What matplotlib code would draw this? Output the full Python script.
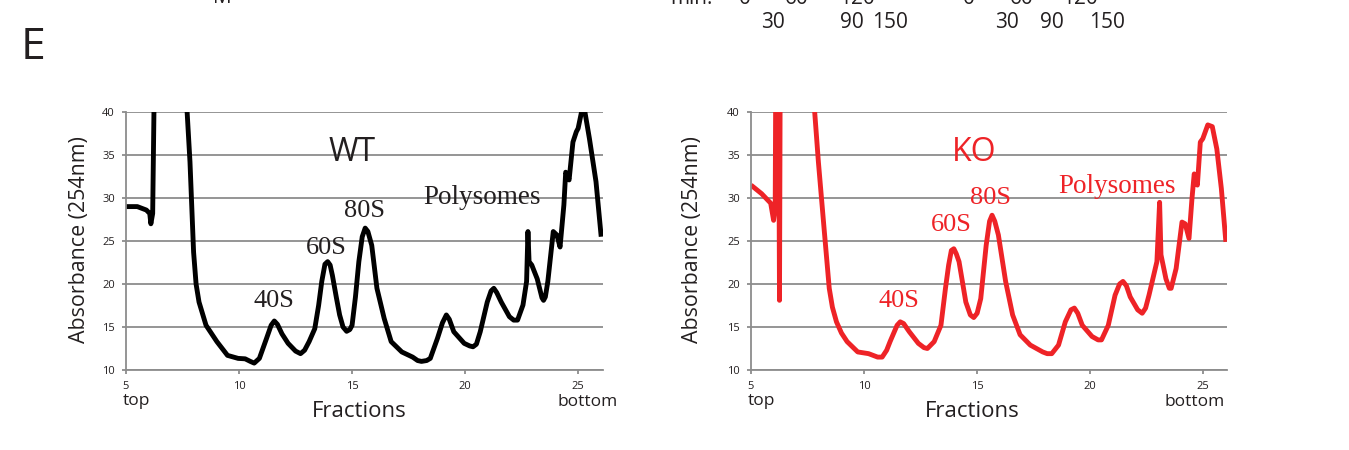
import matplotlib
matplotlib.use("Agg")
import matplotlib.pyplot as plt
import matplotlib.transforms as mtrans

plt.rcParams['font.family'] = ['Open Sans', 'DejaVu Sans']

# fractions / absorbance
wt_x = [5.0, 5.5, 5.9, 6.05, 6.1, 6.18, 6.26, 7.0, 7.66, 7.83,
        7.99, 8.1, 8.23, 8.54, 9.02, 9.49, 9.96, 10.27, 10.5, 10.67,
        10.9, 11.22, 11.42, 11.56, 11.7, 11.9, 12.17, 12.5, 12.72, 12.9,
        13.1, 13.35, 13.52, 13.66, 13.8, 13.92, 14.03, 14.13, 14.3, 14.45,
        14.6, 14.76, 14.9, 15.0, 15.15, 15.3, 15.45, 15.58, 15.7, 15.87,
        16.1, 16.42, 16.73, 17.2, 17.68, 17.9, 18.07, 18.3, 18.46, 18.78,
        19.0, 19.17, 19.3, 19.5, 19.96, 20.2, 20.35, 20.5, 20.67, 20.98,
        21.15, 21.27, 21.4, 21.6, 21.96, 22.15, 22.32, 22.56, 22.72, 22.78,
        22.83, 22.95, 23.19, 23.4, 23.47, 23.55, 23.66, 23.9, 24.06, 24.2,
        24.37, 24.45, 24.6, 24.77, 24.92, 25.0, 25.15, 25.3, 25.5, 25.79,
        26.02]
wt_y = [29.0, 29.0, 28.6, 28.2, 27.0, 28.2, 45, 60, 42, 34.2,
        23.7, 20.0, 17.9, 15.2, 13.3, 11.7, 11.35, 11.3, 11.0, 10.8,
        11.35, 13.7, 15.2, 15.7, 15.3, 14.2, 13.1, 12.2, 11.9, 12.3,
        13.3, 14.8, 17.5, 20.3, 22.3, 22.6, 22.2, 21.0, 18.5, 16.4,
        15.0, 14.5, 14.7, 15.2, 18.5, 22.6, 25.5, 26.5, 26.1, 24.5,
        19.5, 16.0, 13.3, 12.1, 11.5, 11.1, 11.0, 11.1, 11.35, 13.7,
        15.5, 16.4, 15.9, 14.45, 13.1, 12.8, 12.7, 13.0, 14.45, 17.9,
        19.2, 19.5, 19.0, 17.9, 16.2, 15.8, 15.8, 17.55, 20.3, 26.1,
        22.6, 22.2, 20.6, 18.4, 18.1, 18.5, 20.3, 26.1, 25.7, 24.3,
        29.2, 33.0, 32.1, 36.5, 37.7, 38.1, 40.0, 40.0, 36.9, 31.9,
        25.5]

# KO trace
ko_x = [5.0, 5.47, 5.87, 6.0, 6.07, 6.12, 6.2, 6.26, 6.31, 7.0,
        7.76, 7.98, 8.23, 8.46, 8.6, 8.78, 9.0, 9.25, 9.72, 10.2,
        10.6, 10.8, 11.0, 11.15, 11.46, 11.6, 11.75, 12.0, 12.4, 12.65,
        12.8, 13.1, 13.4, 13.6, 13.74, 13.86, 13.97, 14.08, 14.2, 14.5,
        14.7, 14.85, 15.0, 15.16, 15.4, 15.55, 15.66, 15.78, 15.94, 16.26,
        16.57, 16.9, 17.35, 17.9, 18.1, 18.3, 18.6, 18.9, 19.15, 19.3,
        19.45, 19.65, 20.08, 20.35, 20.5, 20.8, 21.1, 21.3, 21.45, 21.6,
        21.77, 22.1, 22.3, 22.45, 22.6, 22.95, 23.07, 23.13, 23.35, 23.5,
        23.58, 23.8, 24.06, 24.2, 24.37, 24.5, 24.6, 24.74, 24.87, 24.98,
        25.2, 25.4, 25.6, 25.8, 26.0]
ko_y = [31.5, 30.5, 29.4, 27.4, 28.8, 60, 60, 18.1, 60, 60,
        42, 34.2, 26.5, 19.5, 17.3, 15.6, 14.3, 13.3, 12.1, 11.9,
        11.5, 11.5, 12.3, 13.3, 15.2, 15.6, 15.4, 14.45, 13.1, 12.6,
        12.5, 13.3, 15.2, 19.5, 22.2, 23.9, 24.1, 23.5, 22.6, 17.9,
        16.4, 16.1, 16.6, 18.3, 24.5, 27.3, 28.0, 27.3, 25.7, 20.3,
        16.4, 14.1, 12.9, 12.1, 11.9, 11.9, 12.9, 15.6, 17.0, 17.2,
        16.6, 15.2, 13.9, 13.5, 13.5, 15.2, 18.7, 20.0, 20.3, 19.8,
        18.5, 17.0, 16.6, 17.2, 18.7, 22.6, 29.5, 23.4, 20.6, 19.5,
        19.5, 21.8, 27.2, 27.0, 25.3, 29.9, 32.8, 31.5, 36.5, 36.9,
        38.5, 38.3, 35.7, 31.1, 24.9]

yticks = [10, 15, 20, 25, 30, 35, 40]
xticks = [5, 10, 15, 20, 25]

RED = '#ee2327'
GRID = '#8c8c8c'
TXT = '#231f20'

W, H = 1349, 450
fig = plt.figure(figsize=(W / 100, H / 100), dpi=100)


def px(x, y):
    return x / W, 1 - y / H


def panel(left, right, xmax, xs, ys, col, name, lab_col, peaks, poly, bottom_x, ylab_x, xlab_x):
    ax = fig.add_axes([left / W, 80 / H, (right - left) / W, 258 / H])
    ax.set_xlim(5, xmax)
    ax.set_ylim(10, 40)
    ax.set_yticks(yticks)
    ax.set_xticks(xticks)
    ax.yaxis.grid(True, color=GRID, lw=1.3)
    ax.set_axisbelow(True)
    for s in ['top', 'right']:
        ax.spines[s].set_visible(False)
    for s in ['left', 'bottom']:
        ax.spines[s].set_color(GRID)
        ax.spines[s].set_linewidth(1.3)
    ax.tick_params(colors=GRID, length=3, width=1.3, labelsize=8, labelcolor=TXT)
    ax.tick_params(axis='x', pad=5)
    ax.tick_params(axis='y', pad=5)
    ax.plot(xs, ys, color=col, lw=3.5, solid_joinstyle='round', solid_capstyle='butt')

    tr = mtrans.blended_transform_factory(ax.transData, ax.transAxes)
    ax.text(5.48, -0.122, 'top', transform=tr, ha='center', va='center', fontsize=12.5, color=TXT)
    ax.text(bottom_x, -0.124, 'bottom', transform=tr, ha='center', va='center', fontsize=12.5, color=TXT)
    ax.text(xlab_x, -0.162, 'Fractions', transform=ax.transAxes, ha='center', va='center',
            fontsize=16, color=TXT)
    ax.text(ylab_x, 0.504, 'Absorbance (254nm)', transform=ax.transAxes, ha='center', va='center',
            rotation=90, fontsize=15.4, color=TXT)

    ax.text(name[1], name[2], name[0], ha='center', va='center', fontsize=23, color=lab_col)
    for lab, x, y in peaks:
        ax.text(x, y, lab, ha='center', va='center', fontsize=19, color=lab_col,
                family='Liberation Serif')
    ax.text(poly[0], poly[1], 'Polysomes', ha='center', va='center', fontsize=19.5, color=lab_col,
            family='Liberation Serif')
    return ax


panel(126, 603, 26.1, wt_x, wt_y, 'black', ('WT', 15.0, 35.3), TXT,
      [('40S', 11.56, 18.0), ('60S', 13.85, 24.2), ('80S', 15.57, 28.5)], (20.77, 30.1),
      25.4, -0.0985, 0.488)
panel(751, 1227, 26.05, ko_x, ko_y, RED, ('KO', 14.87, 35.3), RED,
      [('40S', 11.56, 18.0), ('60S', 13.85, 26.9), ('80S', 15.57, 30.0)], (21.17, 31.3),
      24.6, -0.122, 0.464)

# panel letter and the cut-off labels of the panel above
fig.text(*px(33, 48), 'E', ha='center', va='center', fontsize=32, color=TXT)
fig.text(*px(222, -3), 'M', ha='center', va='center', fontsize=15, color=TXT)
fig.text(*px(691, -2), 'min.', ha='center', va='center', fontsize=15, color=TXT)
for t, x in [('0', 745), ('60', 797), ('120', 857), ('0', 969), ('60', 1022), ('120', 1080)]:
    fig.text(*px(x, -2), t, ha='center', va='center', fontsize=15, color=TXT)
for t, x in [('30', 773), ('90', 852), ('150', 890), ('30', 1007), ('90', 1052), ('150', 1107)]:
    fig.text(*px(x, 23), t, ha='center', va='center', fontsize=15, color=TXT)

fig.savefig('out.png', dpi=100)
